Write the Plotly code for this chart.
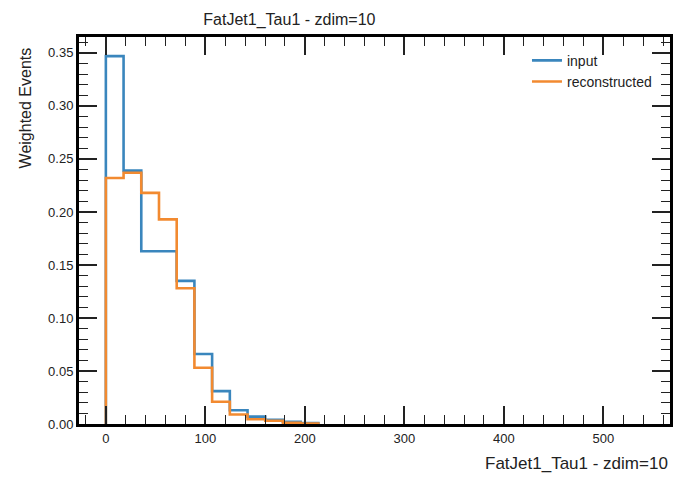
import numpy as np
import plotly.graph_objects as go

# ---- data ----
bin_width = 17.8
input_vals = [0.347, 0.239, 0.163, 0.163, 0.135, 0.066, 0.031, 0.013, 0.007, 0.004, 0.002, 0.001]
recon_vals = [0.232, 0.237, 0.218, 0.193, 0.128, 0.053, 0.021, 0.009, 0.0045, 0.003, 0.0012, 0.0005]
series_names = ["input", "reconstructed"]
x_ticks = [0, 100, 200, 300, 400, 500]
y_ticks = [0.0, 0.05, 0.10, 0.15, 0.20, 0.25, 0.30, 0.35]
title_text = "FatJet1_Tau1 - zdim=10"
xlabel = "FatJet1_Tau1 - zdim=10"
ylabel = "Weighted Events"

colors = ["#3a86bd", "#f28a30"]
x_range = [-27, 567]
y_range = [0, 0.365]


def step_xy(vals):
    edges = np.arange(len(vals) + 1) * bin_width
    xs = [edges[0]]
    ys = [0.0]
    for i, v in enumerate(vals):
        xs += [edges[i], edges[i + 1]]
        ys += [v, v]
    xs.append(edges[-1])
    ys.append(0.0)
    return xs, ys


fig = go.Figure()
# transparent copy bound to the top/right axes so their ticks are drawn
hx, hy = step_xy(input_vals)
fig.add_trace(go.Scatter(x=hx, y=hy, xaxis="x2", yaxis="y2", mode="lines",
                         line=dict(width=0.1, color="rgba(0,0,0,0)"), showlegend=False, hoverinfo="skip"))
for name, vals, c in zip(series_names, [input_vals, recon_vals], colors):
    xs, ys = step_xy(vals)
    fig.add_trace(go.Scatter(x=xs, y=ys, mode="lines", name=name,
                             line=dict(color=c, width=2.6)))

font_family = "Liberation Sans, Arial, sans-serif"
fig.update_layout(
    width=673, height=477,
    margin=dict(l=79, r=3, t=37, b=53),
    paper_bgcolor="white", plot_bgcolor="rgba(0,0,0,0)",
    font=dict(family=font_family, size=13, color="#222"),
    title=dict(text=title_text, xref="container", x=0.43, xanchor="center",
               y=0.972, yanchor="top", font=dict(size=16, color="#222")),
    showlegend=True,
    legend=dict(x=0.758, xanchor="left", y=0.98, yanchor="top",
                bgcolor="rgba(0,0,0,0)", font=dict(size=14, color="#222"),
                itemwidth=30, traceorder="normal"),
)
common_x = dict(range=x_range, ticks="inside", ticklen=18, tickwidth=1.5, tickcolor="#222",
                showgrid=False, zeroline=False, automargin=False,
                minor=dict(ticks="inside", ticklen=9, dtick=20, tick0=0, tickwidth=1.2,
                           tickcolor="#222", showgrid=False))
common_y = dict(range=y_range, ticks="inside", ticklen=18, tickwidth=1.5, tickcolor="#222",
                showgrid=False, zeroline=False, automargin=False,
                minor=dict(ticks="inside", ticklen=9, dtick=0.01, tick0=0, tickwidth=1.2,
                           tickcolor="#222", showgrid=False))
fig.update_layout(
    xaxis=dict(**common_x, tickvals=x_ticks, showline=True, linewidth=3, linecolor="black",
               mirror="allticks", tickfont=dict(size=13), domain=[0, 1], anchor="y"),
    yaxis=dict(**common_y, tickvals=y_ticks, tickformat=".2f", showline=True, linewidth=3,
               linecolor="black", mirror="allticks", tickfont=dict(size=13), domain=[0, 1], anchor="x"),
    xaxis2=dict(**common_x, tickvals=x_ticks, side="top", anchor="y2", domain=[0, 1],
                showticklabels=False, showline=True, linewidth=3, linecolor="black"),
    yaxis2=dict(**common_y, tickvals=y_ticks, side="right", anchor="x2", domain=[0, 1],
                showticklabels=False, showline=True, linewidth=3, linecolor="black"),
)
fig.add_annotation(text=xlabel, xref="paper", yref="paper", x=1.0, y=-0.072,
                   xanchor="right", yanchor="top", showarrow=False,
                   font=dict(size=17, color="#222"))
fig.add_annotation(text=ylabel, xref="paper", yref="paper", x=-0.0914, y=0.818,
                   xanchor="center", yanchor="middle", textangle=-90, showarrow=False,
                   font=dict(size=16, color="#222"))

fig.write_html("out.html", config={"displayModeBar": False},
               post_script="document.body.style.margin='0';document.body.style.overflow='hidden';")
